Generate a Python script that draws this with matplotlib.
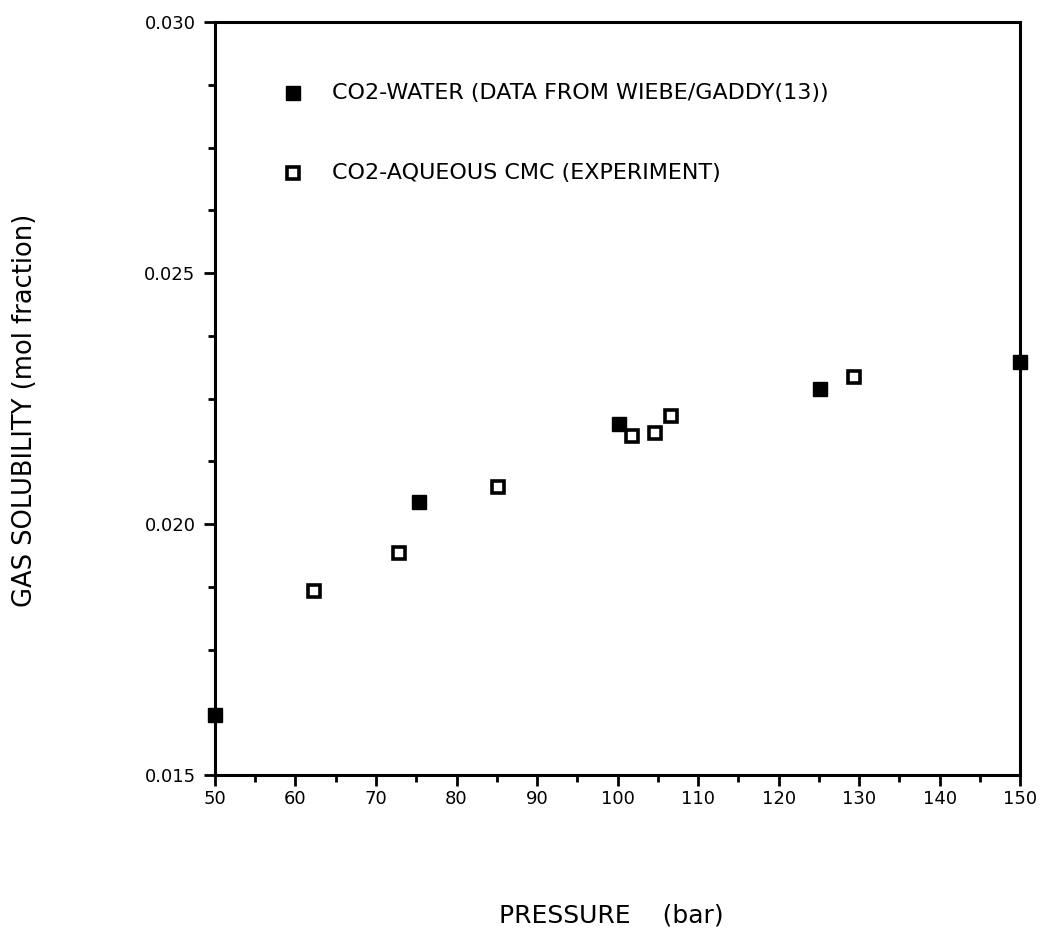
import matplotlib
matplotlib.use("Agg")
import matplotlib.pyplot as plt
from matplotlib.ticker import MultipleLocator, FormatStrFormatter

# CO2-water (Wiebe/Gaddy)
p_water = [50, 75.3, 100.2, 125.1, 150]
x_water = [0.0162, 0.02044, 0.02199, 0.02270, 0.02322]

# CO2-aqueous CMC (experiment)
p_cmc = [62.3, 72.9, 85.2, 101.8, 104.6, 106.6, 129.3]
x_cmc = [0.01866, 0.01942, 0.02074, 0.02175, 0.02181, 0.02215, 0.02294]

legend_labels = ["CO2-WATER (DATA FROM WIEBE/GADDY(13))",
                 "CO2-AQUEOUS CMC (EXPERIMENT)"]

plt.rcParams['font.family'] = ['DejaVu Sans']

fig = plt.figure(figsize=(10.41, 9.34), dpi=100)
ax = fig.add_axes([0.2065, 0.170, 0.7735, 0.8064])

ax.plot(p_water, x_water, 's', color='black', ms=10.5, clip_on=False, zorder=5)
ax.plot(p_cmc, x_cmc, 's', mfc='white', mec='black', mew=2.6, ms=8,
        clip_on=False, zorder=5)

ax.set_xlim(50, 150)
ax.set_ylim(0.015, 0.030)
ax.xaxis.set_major_locator(MultipleLocator(10))
ax.xaxis.set_minor_locator(MultipleLocator(5))
ax.yaxis.set_major_locator(MultipleLocator(0.005))
ax.yaxis.set_minor_locator(MultipleLocator(0.00125))
ax.yaxis.set_major_formatter(FormatStrFormatter('%.3f'))

for s in ax.spines.values():
    s.set_linewidth(2.2)
ax.tick_params(which='major', direction='out', length=8, width=2, labelsize=13)
ax.tick_params(axis='y', which='major', pad=6)
ax.tick_params(axis='x', which='major', pad=3)
ax.tick_params(which='minor', direction='out', length=5, width=2)

# legend drawn as marker + text in data coordinates
ax.plot([59.7], [0.02859], 's', color='black', ms=10.5)
ax.text(64.5, 0.02859, legend_labels[0], fontsize=16, va='center')
ax.plot([59.7], [0.0270], 's', mfc='white', mec='black', mew=2.6, ms=8)
ax.text(64.5, 0.0270, legend_labels[1], fontsize=16, va='center')

ax.set_ylabel("GAS SOLUBILITY (mol fraction)", fontsize=18.5, va='center')
ax.yaxis.set_label_coords(-0.236, 0.485)
ax.set_xlabel("PRESSURE    (bar)", fontsize=18, va='center')
ax.xaxis.set_label_coords(0.492, -0.186)

fig.savefig("out.png", dpi=100)
